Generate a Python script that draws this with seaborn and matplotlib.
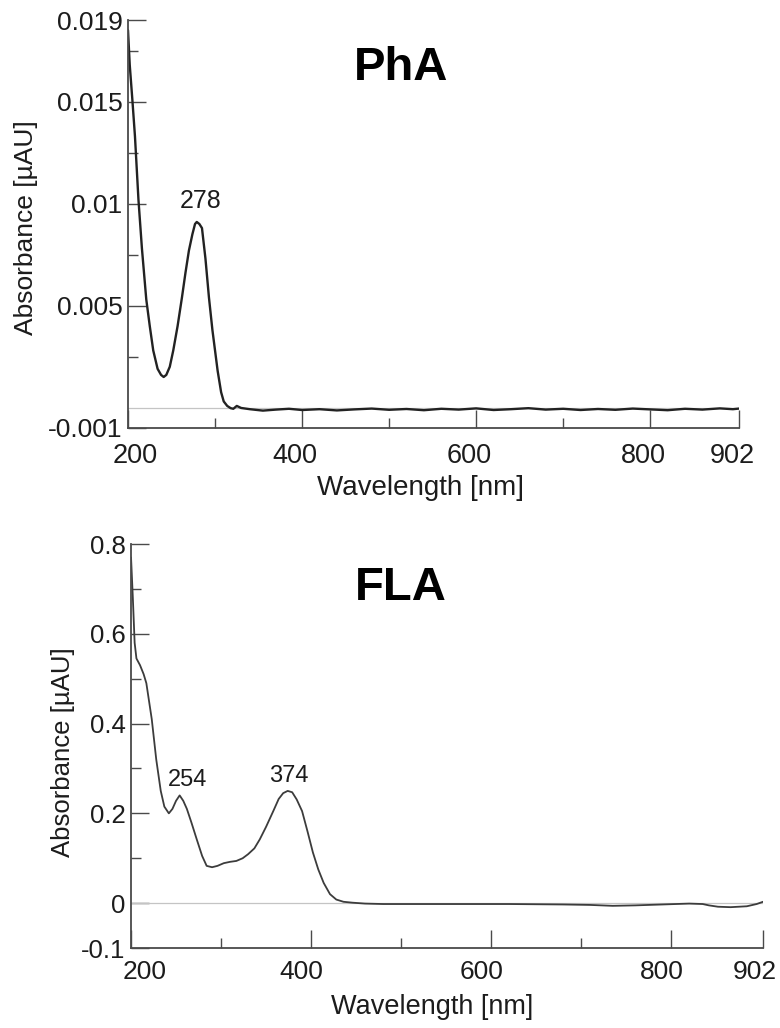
import matplotlib
matplotlib.use("Agg")
from matplotlib import pyplot as plt
from matplotlib.transforms import ScaledTranslation
import seaborn as sns
import pandas as pd

# PhA spectrum
pha_wl = [200, 202, 205, 208, 212, 216, 221, 225, 229, 234, 238, 241, 244, 248, 252,
          257, 262, 266, 270, 274, 277, 279, 282, 285, 289, 293, 297, 300, 303, 307,
          310, 314, 318, 321, 325, 330, 340, 355, 370, 385, 400, 420, 440, 460, 480,
          500, 520, 540, 560, 580, 600, 620, 640, 660, 680, 700, 720, 740, 760, 780,
          800, 820, 840, 860, 880, 895, 902]
pha_abs = [0.0185, 0.0168, 0.0151, 0.0133, 0.0102, 0.0078, 0.0053, 0.0040, 0.0028, 0.0019,
           0.0016, 0.0015, 0.0016, 0.0020, 0.0028, 0.0040, 0.0054, 0.0066, 0.0077, 0.0085,
           0.0090, 0.0091, 0.0090, 0.0088, 0.0073, 0.0054, 0.0038, 0.0028, 0.0018, 0.00075,
           0.0003, 0.00008, -0.00003, -0.00006, 0.00008, -0.00002, -0.00008, -0.00015, -0.0001,
           -0.00006, -0.00012, -0.00008, -0.00014, -0.00009, -0.00005, -0.00011, -0.00007,
           -0.00013, -0.00006, -0.0001, -0.00004, -0.00012, -0.00008, -0.00003, -0.0001,
           -0.00006, -0.00012, -0.00007, -0.00011, -0.00005, -0.00009, -0.00013, -0.00006,
           -0.0001, -0.00004, -0.00008, -0.00005]

# FLA spectrum
fla_wl = [200, 202, 204, 206, 210, 214, 217, 223, 228, 233, 237, 242, 246, 250, 254,
          258, 262, 267, 273, 279, 284, 290, 296, 303, 310, 317, 324, 330, 337, 343,
          350, 358, 364, 369, 374, 379, 384, 390, 396, 402, 408, 414, 421, 428, 436,
          446, 460, 480, 550, 620, 680, 710, 735, 760, 790, 820, 835, 842, 852, 866,
          884, 895, 902]
fla_abs = [0.77, 0.68, 0.58, 0.545, 0.53, 0.51, 0.49, 0.41, 0.32, 0.25, 0.215, 0.200,
           0.21, 0.228, 0.24, 0.228, 0.21, 0.18, 0.142, 0.105, 0.083, 0.080, 0.083, 0.089,
           0.092, 0.094, 0.100, 0.109, 0.122, 0.142, 0.17, 0.205, 0.232, 0.245, 0.250,
           0.247, 0.231, 0.205, 0.16, 0.113, 0.075, 0.045, 0.02, 0.008, 0.003, 0.001,
           -0.001, -0.002, -0.002, -0.002, -0.003, -0.004, -0.006, -0.005, -0.003, -0.001,
           -0.002, -0.005, -0.008, -0.009, -0.007, -0.002, 0.003]

x_ticks = [200, 400, 600, 800, 902]
x_minor = [300, 500, 700]
pha_yticks = [-0.001, 0.005, 0.01, 0.015, 0.019]
pha_ylabels = ["-0.001", "0.005", "0.01", "0.015", "0.019"]
pha_yminor = [0.0025, 0.0075, 0.0125, 0.0175]
fla_yticks = [-0.1, 0, 0.2, 0.4, 0.6, 0.8]
fla_ylabels = ["-0.1", "0", "0.2", "0.4", "0.6", "0.8"]
fla_yminor = [0.1, 0.3, 0.5, 0.7]

sns.set_style("ticks")
plt.rcParams['font.family'] = ['Liberation Sans', 'DejaVu Sans']
plt.rcParams['text.color'] = '#1c1c1c'
plt.rcParams['axes.labelcolor'] = '#1c1c1c'
plt.rcParams['xtick.labelcolor'] = '#1c1c1c'
plt.rcParams['ytick.labelcolor'] = '#1c1c1c'

fig = plt.figure(figsize=(7.8, 10.28), dpi=100)
ax1 = fig.add_axes([0.1641, 0.5837, 0.9474 - 0.1641, 0.9805 - 0.5837])
ax2 = fig.add_axes([0.1680, 0.0778, 0.9782 - 0.1680, 0.4708 - 0.0778])

spine_col = '#4a4a4a'


def style_axis(ax, yticks, ylabels, yminor, xlab_dx, xpad, ylab_x, ylab_y, xlab_x, xlab_y, fs):
    for s in ['top', 'right']:
        ax.spines[s].set_visible(False)
    for s in ['left', 'bottom']:
        ax.spines[s].set_color(spine_col)
        ax.spines[s].set_linewidth(1.3)
    ax.axhline(0, color='#c4c4c4', lw=0.9, zorder=1)
    ax.set_xlim(200, 902)
    ax.set_xticks(x_ticks)
    ax.set_xticklabels([str(t) for t in x_ticks])
    ax.set_xticks(x_minor, minor=True)
    ax.set_yticks(yticks)
    ax.set_yticklabels(ylabels)
    ax.set_yticks(yminor, minor=True)
    ax.tick_params(which='both', direction='in', color=spine_col, width=1.0)
    ax.tick_params(which='major', length=13)
    ax.tick_params(which='minor', length=7)
    ax.tick_params(axis='x', labelsize=fs + 0.5, pad=xpad)
    ax.tick_params(axis='y', labelsize=fs, pad=4)
    # nudge the x tick labels sideways like in the original
    for lab, dx in zip(ax.get_xticklabels(), xlab_dx):
        lab.set_transform(lab.get_transform() + ScaledTranslation(dx / 100, 0, fig.dpi_scale_trans))
    ax.set_xlabel("Wavelength [nm]", fontsize=fs + 1)
    ax.set_ylabel("Absorbance [µAU]", fontsize=fs)
    ax.xaxis.set_label_coords(xlab_x, xlab_y)
    ax.yaxis.set_label_coords(ylab_x, ylab_y)


# Top panel: PhA
df1 = pd.DataFrame({'wl': pha_wl, 'abs': pha_abs})
sns.lineplot(data=df1, x='wl', y='abs', ax=ax1, color='#222222', lw=1.7, estimator=None)
ax1.set_ylim(-0.001, 0.019)
style_axis(ax1, pha_yticks, pha_ylabels, pha_yminor, [7, -7.5, -7, -7, -7], 11,
           -0.147, 0.49, 0.4795, -0.115, 19)
ax1.text(0.447, 0.853, "PhA", transform=ax1.transAxes, ha='center', va='baseline',
         fontsize=34, fontweight='bold', color='black')
ax1.text(283, 0.0098, "278", ha='center', va='baseline', fontsize=18)

# Bottom panel: FLA
df2 = pd.DataFrame({'wl': fla_wl, 'abs': fla_abs})
sns.lineplot(data=df2, x='wl', y='abs', ax=ax2, color='#3c3c3c', lw=1.3, estimator=None)
ax2.set_ylim(-0.1, 0.8)
style_axis(ax2, fla_yticks, fla_ylabels, fla_yminor, [14, -9.5, -10, -9, -8], 8.5,
           -0.0886, 0.485, 0.476, -0.115, 18.5)
ax2.text(0.427, 0.861, "FLA", transform=ax2.transAxes, ha='center', va='baseline',
         fontsize=34, fontweight='bold', color='black')
ax2.text(263, 0.26, "254", ha='center', va='baseline', fontsize=17)
ax2.text(375.5, 0.269, "374", ha='center', va='baseline', fontsize=17)

fig.savefig("out.png", dpi=100, facecolor='white')
